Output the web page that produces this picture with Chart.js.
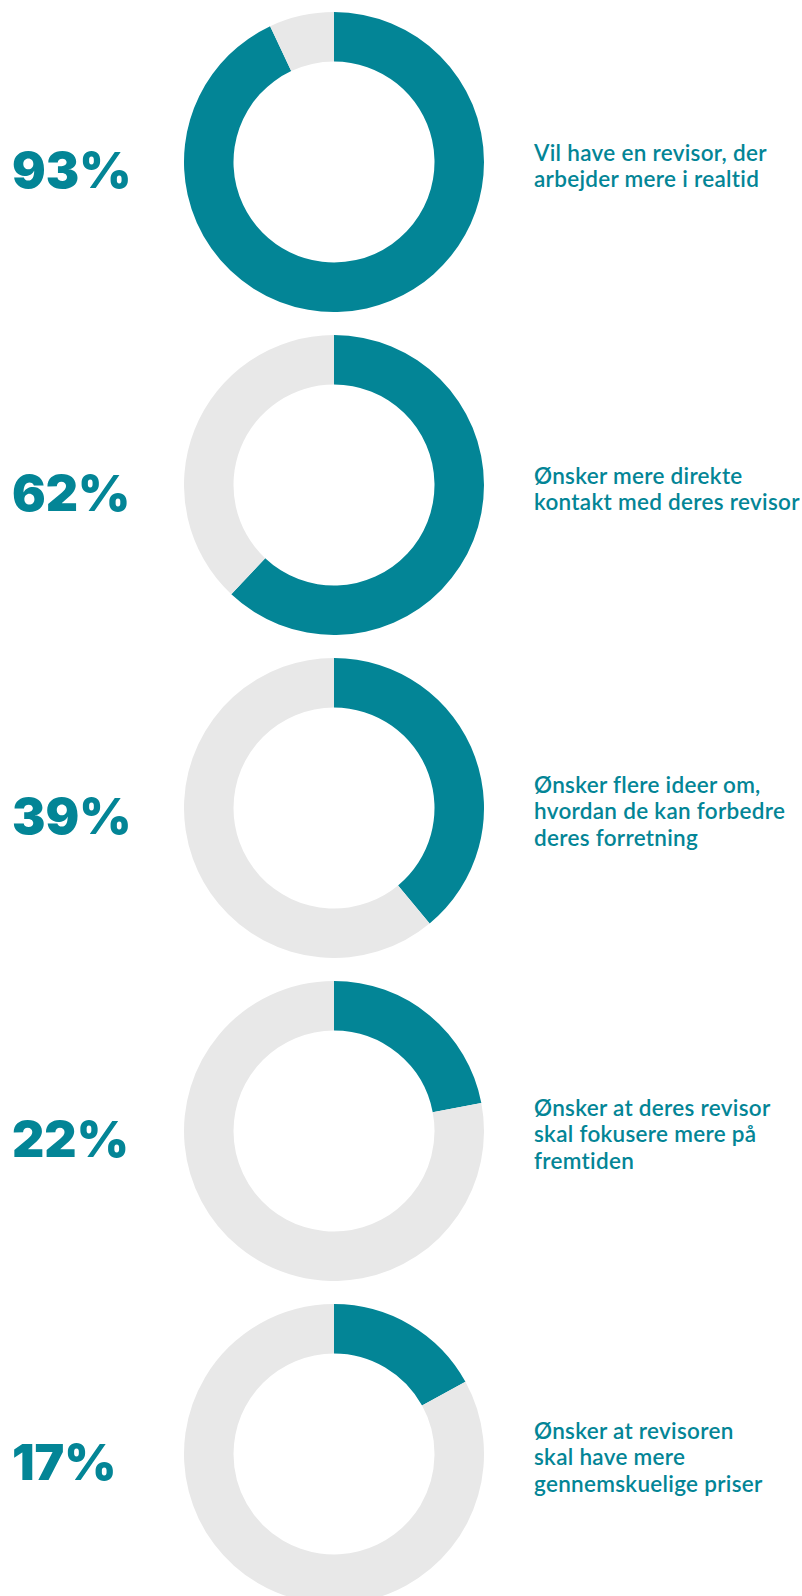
<!DOCTYPE html>
<html>
<head>
<meta charset="utf-8">
<script src="https://cdn.jsdelivr.net/npm/chart.js@4/dist/chart.umd.min.js"></script>
<style>
    html, body {
        margin: 0;
        padding: 0;
        background: #ffffff;
        overflow: hidden;
    }
    #page {
        position: relative;
        width: 802px;
        height: 1596px;
        overflow: hidden;
    }
    .donut {
        position: absolute;
        width: 300px;
        height: 300px;
    }
    .pct {
        position: absolute;
        left: 12px;
        font-family: Inter, "Open Sans", sans-serif;
        font-weight: 900;
        font-size: 50px;
        line-height: 52px;
        color: #038596;
        transform: translateY(-50%);
        white-space: nowrap;
    }
    .desc {
        position: absolute;
        left: 534px;
        font-family: Lato, "Open Sans", sans-serif;
        font-weight: 600;
        font-size: 22.5px;
        letter-spacing: 0.3px;
        line-height: 26.5px;
        color: #038596;
        transform: translateY(-50%);
        white-space: nowrap;
    }
</style>
</head>
<body>
<div id="page"></div>
<script>
// Share of respondents for each statement (teal part of each ring)
const percentages = [93, 62, 39, 22, 17];

// Statement text next to each ring, one entry per line
const descriptions = [
    ['Vil have en revisor, der', 'arbejder mere i realtid'],
    ['Ønsker mere direkte', 'kontakt med deres revisor'],
    ['Ønsker flere ideer om,', 'hvordan de kan forbedre', 'deres forretning'],
    ['Ønsker at deres revisor', 'skal fokusere mere på', 'fremtiden'],
    ['Ønsker at revisoren', 'skal have mere', 'gennemskuelige priser']
];

const TEAL = '#038596';
const GREY = '#e8e8e8';

// layout of the rows
const centerX = 334;
const firstCenterY = 161.5;
const rowStep = 323;
const ringSize = 300;

const page = document.getElementById('page');

percentages.forEach((pct, i) => {
    const cy = firstCenterY + i * rowStep;

    // canvas box holding one doughnut
    const box = document.createElement('div');
    box.className = 'donut';
    box.style.left = (centerX - ringSize / 2) + 'px';
    box.style.top = (cy - ringSize / 2) + 'px';
    const canvas = document.createElement('canvas');
    box.appendChild(canvas);
    page.appendChild(box);

    new Chart(canvas, {
        type: 'doughnut',
        data: {
            labels: ['Ja', 'Øvrige'],
            datasets: [{
                data: [pct, 100 - pct],
                backgroundColor: [TEAL, GREY],
                borderWidth: 0,
                hoverOffset: 0,
                offset: 0
            }]
        },
        options: {
            responsive: true,
            maintainAspectRatio: false,
            animation: false,
            events: [],
            cutout: '67%',
            layout: { padding: 0 },
            plugins: {
                legend: { display: false },
                tooltip: { enabled: false }
            }
        }
    });

    // big percentage on the left
    const big = document.createElement('div');
    big.className = 'pct';
    big.style.top = (cy + 8) + 'px';
    big.textContent = pct + '%';
    page.appendChild(big);

    // statement on the right
    const desc = document.createElement('div');
    desc.className = 'desc';
    desc.style.top = (cy + 4) + 'px';
    desc.innerHTML = descriptions[i].join('<br>');
    page.appendChild(desc);
});
</script>
</body>
</html>
